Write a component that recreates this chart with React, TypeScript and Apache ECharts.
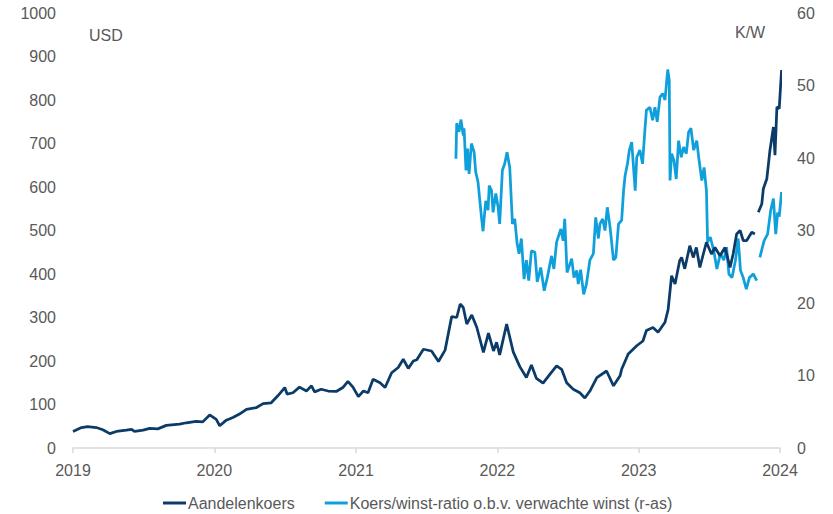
import React, { useEffect, useRef } from "react";
import * as echarts from "echarts";

// Share price in USD (left axis)
const priceDates = [
  "2019-01-01", "2019-01-23", "2019-02-08", "2019-03-02", "2019-03-19", "2019-04-06",
  "2019-04-23", "2019-05-19", "2019-06-01", "2019-06-09", "2019-07-01", "2019-07-18",
  "2019-08-08", "2019-08-30", "2019-10-03", "2019-10-21", "2019-11-15", "2019-12-02",
  "2019-12-20", "2020-01-06", "2020-01-15", "2020-02-01", "2020-02-18", "2020-03-06",
  "2020-03-24", "2020-04-19", "2020-05-06", "2020-05-27", "2020-06-13", "2020-07-01",
  "2020-07-07", "2020-07-22", "2020-08-08", "2020-08-26", "2020-09-08", "2020-09-16",
  "2020-10-03", "2020-10-21", "2020-11-11", "2020-11-28", "2020-12-11", "2020-12-24",
  "2021-01-07", "2021-01-20", "2021-02-01", "2021-02-14", "2021-03-04", "2021-03-17",
  "2021-04-03", "2021-04-20", "2021-05-03", "2021-05-16", "2021-05-29", "2021-06-07",
  "2021-06-24", "2021-07-15", "2021-08-02", "2021-08-19", "2021-09-05", "2021-09-18",
  "2021-09-27", "2021-10-05", "2021-10-14", "2021-10-27", "2021-11-09", "2021-11-26",
  "2021-12-09", "2021-12-22", "2021-12-30", "2022-01-07", "2022-01-25", "2022-02-11",
  "2022-02-28", "2022-03-17", "2022-03-30", "2022-04-12", "2022-04-29", "2022-05-17",
  "2022-06-03", "2022-06-16", "2022-06-29", "2022-07-16", "2022-08-02", "2022-08-15",
  "2022-08-28", "2022-09-15", "2022-10-10", "2022-10-28", "2022-11-14", "2022-11-18",
  "2022-12-05", "2022-12-27", "2023-01-12", "2023-01-21", "2023-02-07", "2023-02-20",
  "2023-03-10", "2023-03-18", "2023-03-27", "2023-04-05", "2023-04-17", "2023-04-22",
  "2023-04-30", "2023-05-13", "2023-05-22", "2023-05-30", "2023-06-08", "2023-06-17",
  "2023-06-25", "2023-07-08", "2023-07-17", "2023-07-30", "2023-08-12", "2023-08-25",
  "2023-09-02", "2023-09-11", "2023-09-20", "2023-09-28", "2023-10-07", "2023-10-20",
  "2023-10-28", "2023-11-01", "2023-11-06", "2023-11-15", "2023-11-19", "2023-11-28",
  "2023-12-06", "2023-12-15", "2023-12-19", "2023-12-24", "2023-12-30", "2024-01-05",
];
const priceValues: (number | null)[] = [
  38, 47, 49, 47, 42, 33,
  38, 41, 43, 38, 41, 45,
  44, 52, 55, 58, 61, 60,
  76, 66, 51, 64, 70, 78,
  89, 93, 102, 104, 120, 139,
  124, 127, 140, 131, 143, 129,
  135, 131, 130, 139, 153, 140,
  118, 131, 127, 158, 150, 139,
  173, 185, 204, 183, 200, 203,
  227, 223, 199, 225, 302, 300,
  331, 323, 285, 306, 277, 220,
  264, 223, 243, 214, 285, 221,
  187, 162, 191, 160, 149, 170,
  189, 181, 150, 135, 127, 115,
  131, 162, 177, 143, 166, 181,
  216, 235, 246, 270, 277, 266,
  289, 318, 396, 377, 431, 438,
  412, 465, 438, 461, 415, 446,
  473, 446, 461, 442, 461, 415,
  446, 492, 500, 477, 477, 496,
  492, null, 542, 561, 596, 619,
  684, 738, 673, 784, 780, 869,
];

// Price/earnings ratio on expected earnings (right axis)
const peDates = [
  "2021-09-16", "2021-09-18", "2021-09-24", "2021-09-29", "2021-10-05", "2021-10-07",
  "2021-10-12", "2021-10-16", "2021-10-20", "2021-10-26", "2021-11-02", "2021-11-06",
  "2021-11-12", "2021-11-21", "2021-11-25", "2021-12-02", "2021-12-08", "2021-12-11",
  "2021-12-17", "2021-12-21", "2021-12-28", "2022-01-03", "2022-01-07", "2022-01-14",
  "2022-01-20", "2022-01-26", "2022-02-02", "2022-02-09", "2022-02-15", "2022-02-21",
  "2022-02-26", "2022-03-04", "2022-03-11", "2022-03-17", "2022-03-23", "2022-03-30",
  "2022-04-08", "2022-04-14", "2022-04-23", "2022-05-02", "2022-05-10", "2022-05-21",
  "2022-05-27", "2022-06-03", "2022-06-14", "2022-06-20", "2022-06-24", "2022-06-30",
  "2022-07-12", "2022-07-18", "2022-07-25", "2022-07-29", "2022-08-04", "2022-08-12",
  "2022-08-19", "2022-08-28", "2022-09-06", "2022-09-12", "2022-09-19", "2022-09-23",
  "2022-09-30", "2022-10-06", "2022-10-12", "2022-10-19", "2022-10-28", "2022-11-03",
  "2022-11-10", "2022-11-18", "2022-11-23", "2022-11-27", "2022-12-03", "2022-12-08",
  "2022-12-14", "2022-12-23", "2022-12-27", "2023-01-04", "2023-01-11", "2023-01-17",
  "2023-01-21", "2023-01-30", "2023-02-06", "2023-02-12", "2023-02-18", "2023-02-25",
  "2023-03-04", "2023-03-10", "2023-03-17", "2023-03-21", "2023-03-23", "2023-03-27",
  "2023-04-02", "2023-04-08", "2023-04-14", "2023-04-21", "2023-04-27", "2023-05-04",
  "2023-05-10", "2023-05-16", "2023-05-23", "2023-05-31", "2023-06-05", "2023-06-13",
  "2023-06-19", "2023-06-25", "2023-06-28", "2023-07-05", "2023-07-14", "2023-07-22",
  "2023-07-31", "2023-08-09", "2023-08-16", "2023-08-22", "2023-08-30", "2023-09-08",
  "2023-09-15", "2023-09-21", "2023-09-28", "2023-10-06", "2023-10-14", "2023-10-24",
  "2023-11-02", "2023-11-04", "2023-11-10", "2023-11-21", "2023-11-30", "2023-12-08",
  "2023-12-15", "2023-12-21", "2023-12-26", "2023-12-30", "2024-01-05",
];
const peValues: (number | null)[] = [
  39.9, 44.8, 43.6, 45.3, 43.1, 44.1,
  38.3, 41.3, 37.8, 42, 40.8, 38.1,
  36.7, 31.8, 29.9, 34.1, 32.8, 36.2,
  35.5, 32.5, 35.1, 33.2, 30.9, 38.3,
  39.2, 40.8, 38.7, 30.9, 31.6, 28.2,
  26.8, 28.9, 23.3, 25.9, 23.1, 27.2,
  27, 22.9, 24.9, 21.7, 23.5, 26.5,
  24.7, 28.4, 30.2, 28.6, 31.6, 24.2,
  26.1, 23.5, 24.5, 22.6, 24.6, 21.2,
  22.6, 25.9, 26.8, 31.8, 28.9, 30.9,
  31.6, 30, 33.2, 30.5, 25.9, 26.3,
  30.9, 31.4, 35.5, 37.6, 39.2, 41.1,
  42.2, 35.5, 40.1, 41.1, 39.2, 43.8,
  46.6, 47, 45.2, 47, 45, 48.4,
  48.9, 48, 52.2, 50.7, 36.9, 40.6,
  39.7, 37.1, 42.4, 40.1, 41.5, 40.6,
  43.6, 44.1, 41.1, 42.4, 40.1, 36.9,
  38.7, 35.5, 28.4, 29.1, 27.2, 24.7,
  26.8, 25.9, 27.7, 24, 23.5, 25.9,
  28.9, 24.5, 23.5, 21.9, 23.5, 24,
  23.1, null, 26.3, 28.6, 29.5, 32.8,
  34.4, 29.5, 32.5, 31.9, 35.3,
];

const leftTicks = { min: 0, max: 1000, step: 100 };
const rightTicks = { min: 0, max: 60, step: 10 };
const seriesNames = [
  "Aandelenkoers",
  "Koers/winst-ratio o.b.v. verwachte winst (r-as)",
];
const axisUnits = ["USD", "K/W"];

const NAVY = "#0b3b68";
const SKY = "#0fa0dc";
const TEXT = "#595959";
const FONT = 'Arial, "Liberation Sans", sans-serif';
const DAY = 24 * 3600 * 1000;

export default function App() {
  const ref = useRef<HTMLDivElement>(null);

  useEffect(() => {
    if (!ref.current) return;
    const chart = echarts.init(ref.current, undefined, { renderer: "svg" });

    const priceData = priceDates.map((d, i) => [d, priceValues[i]]);
    const peData = peDates.map((d, i) => [d, peValues[i]]);

    const labelStyle = { color: TEXT, fontSize: 16, fontFamily: FONT };
    const plain = (v: number) => String(v);

    chart.setOption({
      animation: false,
      backgroundColor: "#ffffff",
      grid: { left: 73, right: 53, top: 13, bottom: 66, containLabel: false },
      xAxis: {
        type: "time",
        min: new Date(2019, 0, 1).getTime(),
        max: new Date(2024, 0, 1).getTime(),
        minInterval: 365 * DAY,
        maxInterval: 366 * DAY,
        axisLine: { show: true, lineStyle: { color: "#d9d9d9", width: 1.5 } },
        axisTick: { show: true, length: 5, lineStyle: { color: "#d9d9d9", width: 1.5 } },
        axisLabel: {
          ...labelStyle,
          formatter: "{yyyy}",
          margin: 14,
          showMinLabel: true,
          showMaxLabel: true,
        },
        splitLine: { show: false },
      },
      yAxis: [
        {
          type: "value",
          min: leftTicks.min,
          max: leftTicks.max,
          interval: leftTicks.step,
          axisLine: { show: false },
          axisTick: { show: false },
          splitLine: { show: false },
          axisLabel: { ...labelStyle, margin: 17, formatter: plain },
        },
        {
          type: "value",
          position: "right",
          min: rightTicks.min,
          max: rightTicks.max,
          interval: rightTicks.step,
          axisLine: { show: false },
          axisTick: { show: false },
          splitLine: { show: false },
          axisLabel: { ...labelStyle, margin: 17, formatter: plain },
        },
      ],
      legend: {
        left: 158,
        top: 490,
        icon: "rect",
        itemWidth: 23,
        itemHeight: 3,
        itemGap: 30,
        selectedMode: false,
        textStyle: { ...labelStyle, padding: [0, 0, 0, -3] },
        data: seriesNames,
      },
      graphic: [
        {
          type: "text",
          left: 89,
          top: 27,
          style: { text: axisUnits[0], fill: TEXT, font: `16px ${FONT}` },
        },
        {
          type: "text",
          left: 735,
          top: 24,
          style: { text: axisUnits[1], fill: TEXT, font: `16px ${FONT}` },
        },
      ],
      series: [
        {
          name: seriesNames[1],
          type: "line",
          yAxisIndex: 1,
          data: peData,
          showSymbol: false,
          connectNulls: false,
          clip: false,
          lineStyle: { color: SKY, width: 2.75 },
          itemStyle: { color: SKY },
          z: 2,
        },
        {
          name: seriesNames[0],
          type: "line",
          yAxisIndex: 0,
          data: priceData,
          showSymbol: false,
          connectNulls: false,
          clip: false,
          lineStyle: { color: NAVY, width: 2.75 },
          itemStyle: { color: NAVY },
          z: 3,
        },
      ],
    });

    return () => chart.dispose();
  }, []);

  return (
    <div
      ref={ref}
      style={{ position: "fixed", left: 0, top: 0, width: 833, height: 514 }}
    />
  );
}
